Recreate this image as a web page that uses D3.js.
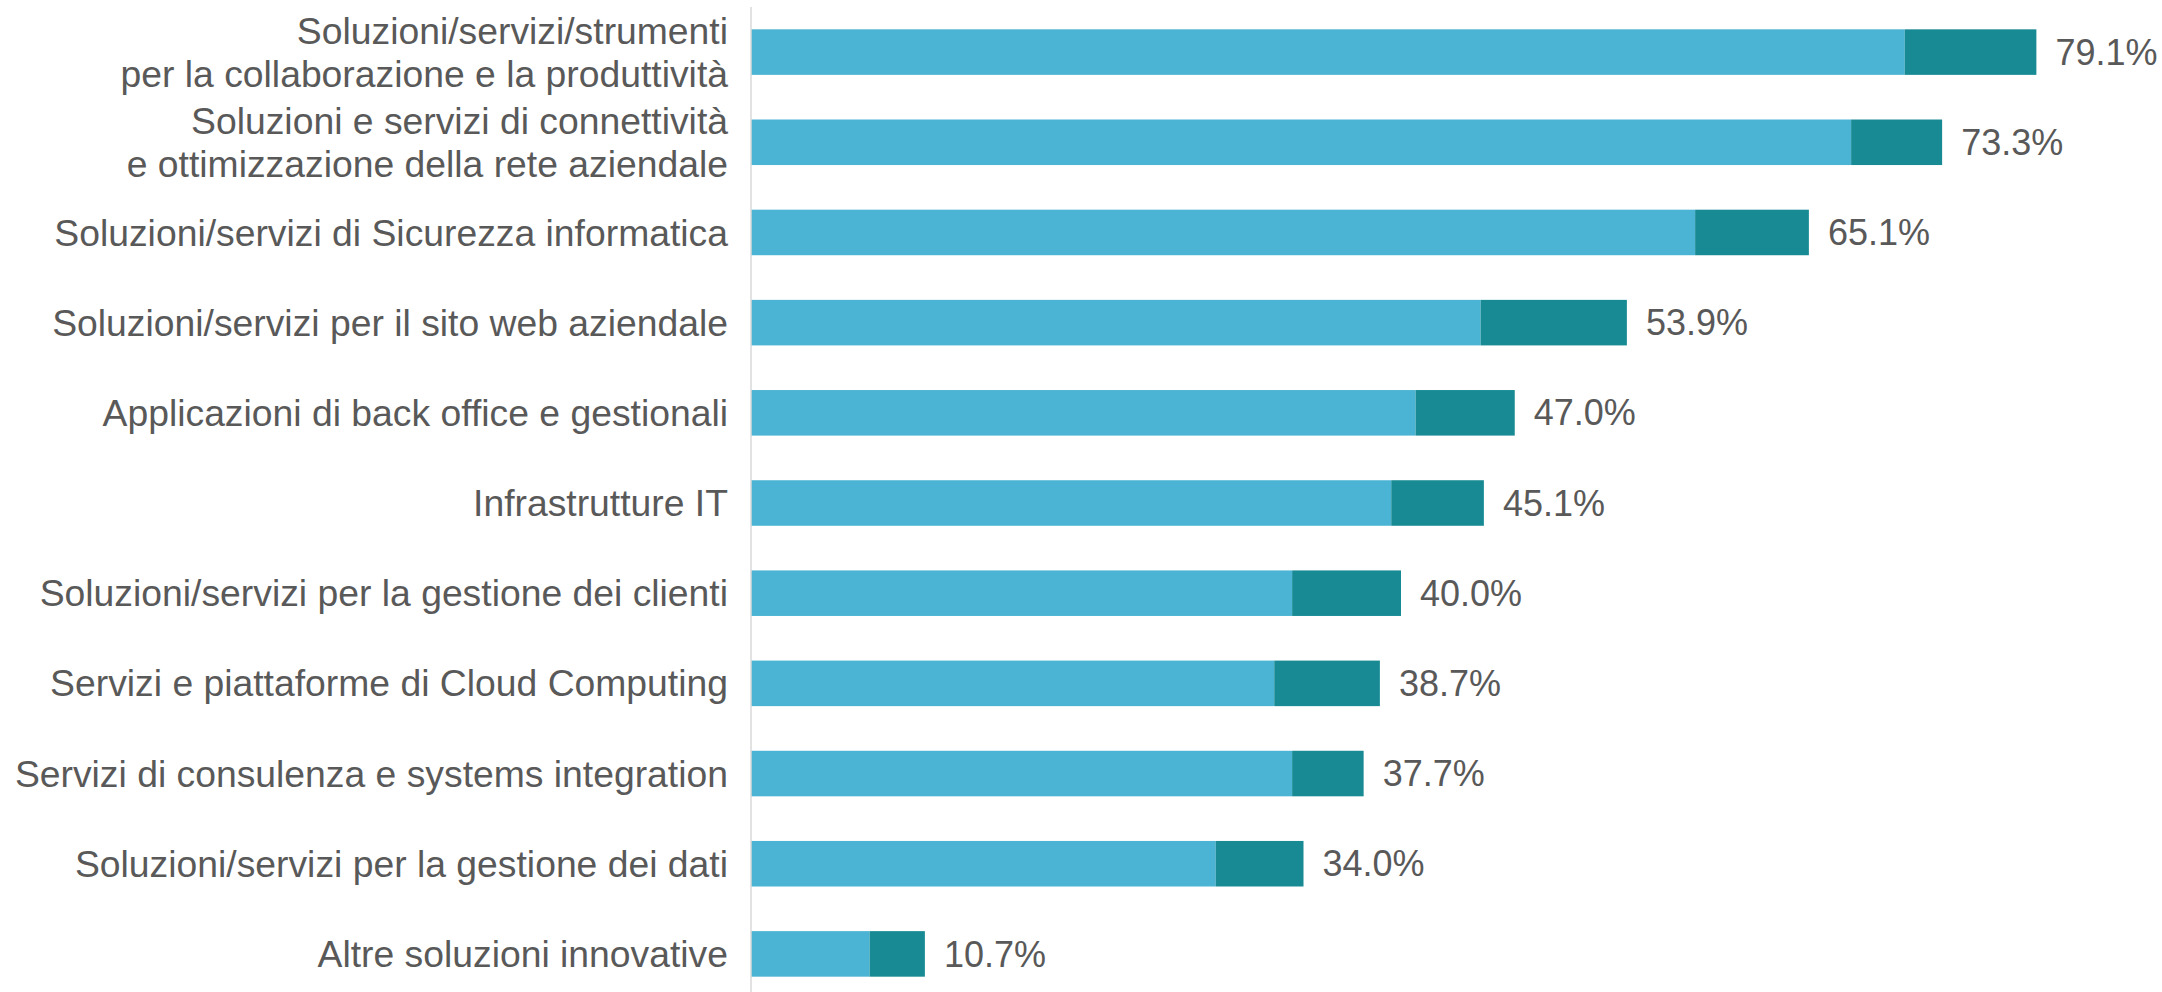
<!DOCTYPE html>
<html>
<head>
<meta charset="utf-8">
<script src="https://cdn.jsdelivr.net/npm/d3@7"></script>
<style>
  html, body { margin: 0; padding: 0; background: #ffffff; }
  svg { display: block; }
  text { font-family: "Liberation Sans", Arial, "Helvetica", sans-serif; }
</style>
</head>
<body>
<svg id="chart" width="2162" height="992"></svg>
<script>
// ---- data ----
const categories = [
  ["Soluzioni/servizi/strumenti", "per la collaborazione e la produttività"],
  ["Soluzioni e servizi di connettività", "e ottimizzazione della rete aziendale"],
  ["Soluzioni/servizi di Sicurezza informatica"],
  ["Soluzioni/servizi per il sito web aziendale"],
  ["Applicazioni di back office e gestionali"],
  ["Infrastrutture IT"],
  ["Soluzioni/servizi per la gestione dei clienti"],
  ["Servizi e piattaforme di Cloud Computing"],
  ["Servizi di consulenza e systems integration"],
  ["Soluzioni/servizi per la gestione dei dati"],
  ["Altre soluzioni innovative"]
];
const seriesLight = [71.0, 67.7, 58.1, 44.9, 40.9, 39.4, 33.3, 32.2, 33.3, 28.6, 7.3];
const seriesDark  = [8.1, 5.6, 7.0, 9.0, 6.1, 5.7, 6.7, 6.5, 4.4, 5.4, 3.4];
const totals      = [79.1, 73.3, 65.1, 53.9, 47.0, 45.1, 40.0, 38.7, 37.7, 34.0, 10.7];

// ---- layout ----
const svg = d3.select("#chart");
const axisX = 751;
const colors = { light: "#4bb3d4", dark: "#188a93", text: "#595959", axis: "#d9d9d9" };

const ids = categories.map((c, i) => i);
const y = d3.scaleBand()
  .domain(ids)
  .range([7, 999])
  .paddingInner(0.495)
  .paddingOuter(0.2475);

const x = d3.scaleLinear().domain([0, 100]).range([axisX, axisX + 1625]);

const rows = ids.map(i => ({
  i,
  label: categories[i],
  light: seriesLight[i],
  dark: seriesDark[i],
  total: totals[i]
}));

// bars - light segment
svg.append("g").selectAll("rect")
  .data(rows).join("rect")
  .attr("x", d => x(0))
  .attr("y", d => y(d.i))
  .attr("width", d => x(d.light) - x(0))
  .attr("height", y.bandwidth())
  .attr("fill", colors.light);

// bars - dark segment
svg.append("g").selectAll("rect")
  .data(rows).join("rect")
  .attr("x", d => x(d.light))
  .attr("y", d => y(d.i))
  .attr("width", d => x(d.light + d.dark) - x(d.light))
  .attr("height", y.bandwidth())
  .attr("fill", colors.dark);

// axis line
svg.append("line")
  .attr("x1", x(0)).attr("x2", x(0))
  .attr("y1", 7).attr("y2", 992)
  .attr("stroke", colors.axis)
  .attr("stroke-width", 1.5);

// value labels
svg.append("g").selectAll("text")
  .data(rows).join("text")
  .attr("x", d => x(d.light + d.dark) + 19)
  .attr("y", d => y(d.i) + y.bandwidth() / 2)
  .attr("dy", "0.35em")
  .attr("font-size", 36)
  .attr("fill", colors.text)
  .text(d => d3.format(".1f")(d.total) + "%");

// category labels
const lab = svg.append("g").selectAll("text")
  .data(rows).join("text")
  .attr("x", axisX - 23)
  .attr("y", d => y(d.i) + y.bandwidth() / 2)
  .attr("text-anchor", "end")
  .attr("font-size", 37.3)
  .attr("fill", colors.text);

lab.selectAll("tspan")
  .data(d => d.label.map((t, k) => ({ t, k, n: d.label.length })))
  .join("tspan")
  .attr("x", axisX - 23)
  .attr("dy", d => d.k === 0 ? ((0.35 - (d.n - 1) * 0.58) + "em") : "1.16em")
  .text(d => d.t);
</script>
</body>
</html>
